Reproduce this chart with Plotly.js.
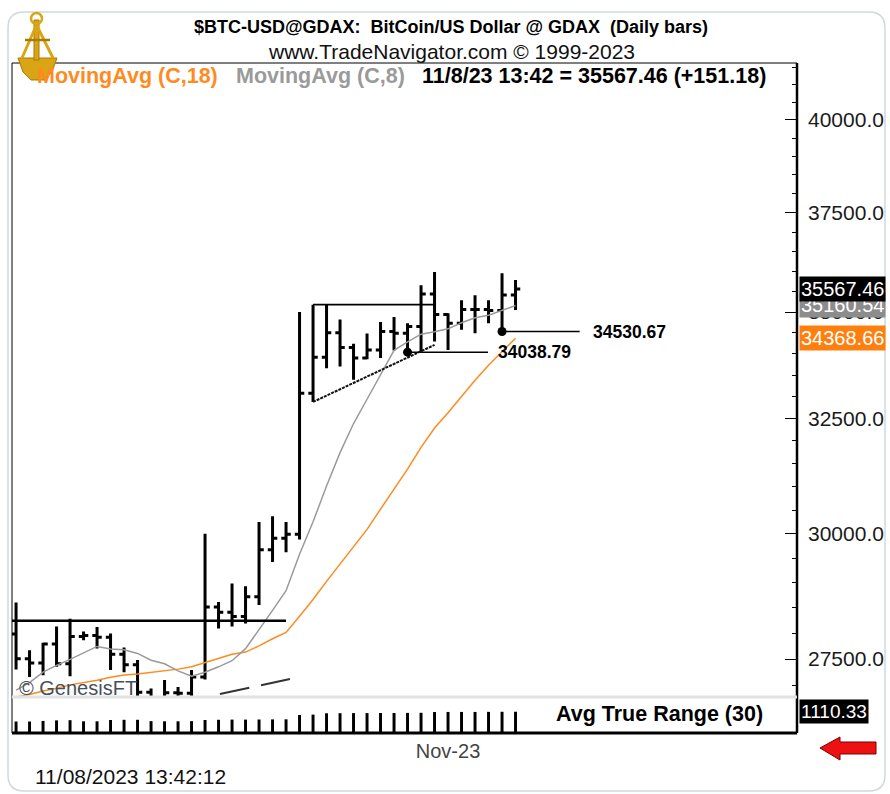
<!DOCTYPE html>
<html><head><meta charset="utf-8">
<script src="https://cdn.plot.ly/plotly-3.0.1.min.js"></script>
<style>html,body{margin:0;padding:0;background:#fff}#c{width:890px;height:794px}</style>
</head><body><div id="c"></div>
<script>
// ---------- data ----------
const dates = ['2023-10-02','2023-10-03','2023-10-04','2023-10-05','2023-10-06','2023-10-07','2023-10-08','2023-10-09','2023-10-10','2023-10-11','2023-10-12','2023-10-13','2023-10-14','2023-10-15','2023-10-16','2023-10-17','2023-10-18','2023-10-19','2023-10-20','2023-10-21','2023-10-22','2023-10-23','2023-10-24','2023-10-25','2023-10-26','2023-10-27','2023-10-28','2023-10-29','2023-10-30','2023-10-31','2023-11-01','2023-11-02','2023-11-03','2023-11-04','2023-11-05','2023-11-06','2023-11-07','2023-11-08'];
const openP  = [27983,27505,27425,27790,27410,27935,27955,27920,27590,27390,26870,26750,26860,26855,27160,28510,28410,28325,28715,29670,29910,29990,33080,33920,34500,34150,33900,34090,34530,34490,34650,35440,34940,34730,35060,35060,35040,35416.28];
const highP  = [28600,27670,27810,28130,28280,28030,28120,27990,27720,27480,26940,27100,26970,27290,30000,28610,28980,28925,30250,30370,30250,35000,35180,35180,34820,34240,34480,34760,34880,34730,35660,35990,34970,35290,35410,35290,35960,35790];
const lowP   = [27300,27160,27190,27350,27170,27860,27700,27290,27250,26550,26560,26690,26800,26800,27110,28090,28130,28185,28550,29420,29620,29880,32880,33660,33700,33390,33870,33900,34080,34038.79,34050,34290,34090,34570,34490,34730,34530.67,35050];
const closeP = [27505,27425,27790,27410,27935,27955,27920,27590,27390,26870,26750,26860,26855,27160,28510,28410,28325,28715,29670,29910,29990,33080,33920,34500,34150,33900,34090,34530,34490,34650,35440,34940,34730,35060,35060,35040,35416.28,35567.46];
const ma18 = [26782,26828,26896,26944,27010,27051,27095,27152,27197,27213,27241,27272,27307,27351,27433,27516,27592,27632,27752,27890,28013,28328,28660,29024,29370,29720,30093,30519,30948,31381,31857,32289,32635,33006,33379,33730,34049,34368.66];
const ma8  = [26912,27052,27249,27379,27492,27622,27741,27691,27677,27607,27477,27409,27274,27174,27248,27351,27467,27698,28063,28444,28836,29576,30252,31014,31742,32390,32942,33521,34082,34280,34467,34522,34595,34742,34861,34924,35041,35160.54];
const atr30 = [600,600,630,660,670,610,610,680,690,690,620,610,610,620,680,690,700,700,705,710,715,940,960,1030,1035,1040,1040,1045,1045,1050,1055,1095,1100,1100,1100,1105,1108,1110.33];
const priceTicks = [27500,30000,32500,35000,37500,40000];
const minorTicks = [27000,28000,28500,29000,29500,30500,31000,31500,32000,33000,33500,34000,34500,35500,36000,36500,37000,38000,38500,39000,39500,40500,41000,41500];
const dateTicks = ['2023-11-01'];
const dateTickText = ['Nov-23'];
const resistance = 35180;       // top of triangle
const triLow = [32880, 34210];  // lower triangle line ends
const triDates = ['2023-10-24','2023-11-02'];
const baseLevel = 28240;        // horizontal line left side
const markA = {d:'2023-10-31', v:34038.79, end:'2023-11-05 23:00'};
const markB = {d:'2023-11-07', v:34530.67, end:'2023-11-12 18:00'};
const dashDates = ['2023-10-17 02:30','2023-10-22 07:00'];
const dashVals = [26840, 27120];
const lastClose = 35567.46, lastMa8 = 35160.54, lastMa18 = 34368.66, lastAtr = 1110.33;

// ---------- layout helpers ----------
const L = 12, R = 797, T = 63, B = 733;
const X = px => (px - L) / (R - L);
const Y = py => (B - py) / (B - T);
const FONT = 'Liberation Sans, Arial, sans-serif';
const paneSplit = 36 / (B - T);
const xStart = '2023-10-01 16:48', xEnd = '2023-11-28 20:24';

const traces = [
  {type:'bar', x:dates, y:atr30, xaxis:'x', yaxis:'y2', marker:{color:'#000'}, width:19000000, hoverinfo:'skip'},
  {type:'scatter', mode:'lines', x:dates, y:ma18, line:{color:'#ff8a1e', width:1.5}, hoverinfo:'skip'},
  {type:'scatter', mode:'lines', x:dates, y:ma8, line:{color:'#9a9a9a', width:1.5}, hoverinfo:'skip'},
  {type:'scatter', mode:'lines', x:[xStart, '2023-10-22'], y:[baseLevel, baseLevel], line:{color:'#000', width:2.5}, hoverinfo:'skip'},
  {type:'scatter', mode:'lines', x:triDates, y:[resistance, resistance], line:{color:'#000', width:1.8}, hoverinfo:'skip'},
  {type:'scatter', mode:'lines', x:triDates, y:triLow, line:{color:'#111', width:2, dash:'3px,1px'}, hoverinfo:'skip'},
  {type:'scatter', mode:'lines', x:[markA.d, markA.end], y:[markA.v, markA.v], line:{color:'#000', width:1.5}, hoverinfo:'skip'},
  {type:'scatter', mode:'lines', x:[markB.d, markB.end], y:[markB.v, markB.v], line:{color:'#000', width:1.5}, hoverinfo:'skip'},
  {type:'scatter', mode:'lines', x:dashDates, y:dashVals, line:{color:'#333', width:2, dash:'30px,12px'}, hoverinfo:'skip'},
  {type:'ohlc', x:dates, open:openP, high:highP, low:lowP, close:closeP, tickwidth:0.35,
   increasing:{line:{color:'#000', width:3}}, decreasing:{line:{color:'#000', width:3}}, hoverinfo:'skip'},
  {type:'scatter', mode:'markers', x:[markA.d, markB.d], y:[markA.v, markB.v], marker:{color:'#000', size:9}, hoverinfo:'skip'}
];

function ann(text, px, py, o) {
  return Object.assign({text:text, xref:'paper', yref:'paper', x:X(px), y:Y(py), xanchor:'left', yanchor:'middle',
    showarrow:false, font:{family:FONT, size:21, color:'#000'}}, o || {});
}
function logY(v){ return 120 + 3312 * Math.log10(40000 / v); }

const annotations = [
  ann('www.TradeNavigator.com © 1999-2023', 451, 51, {xanchor:'center', font:{family:FONT, size:21, color:'#111'}}),
  ann('<b>MovingAvg (C,18)</b>', 35, 76, {font:{family:FONT, size:21.5, color:'#ff8a1e'}}),
  ann('<b>MovingAvg (C,8)</b>', 234, 76, {font:{family:FONT, size:21.5, color:'#9a9a9a'}}),
  ann('<b>11/8/23 13:42 = ' + lastClose.toFixed(2) + ' (+151.18)</b>', 420, 76, {font:{family:FONT, size:21.5, color:'#000'}}),
  ann('<b>' + markB.v.toFixed(2) + '</b>', 591, 332, {font:{family:FONT, size:17.5, color:'#000'}}),
  ann('<b>' + markA.v.toFixed(2) + '</b>', 496, 352, {font:{family:FONT, size:17.5, color:'#000'}}),
  ann('© GenesisFT', 17, 688, {font:{family:FONT, size:20, color:'#46505a'}}),
  ann('<b>Avg True Range (30)</b>', 554, 714, {font:{family:FONT, size:21.5, color:'#000'}}),
  ann('11/08/2023 13:42:12', 33, 776, {font:{family:FONT, size:21, color:'#111'}}),
  ann(lastMa8.toFixed(2), 799, logY(lastMa8), {bgcolor:'#8c8c8c', font:{family:FONT, size:20, color:'#fff'}, borderpad:1}),
  ann(lastClose.toFixed(2), 799, logY(lastClose), {bgcolor:'#000', font:{family:FONT, size:20, color:'#fff'}, borderpad:1}),
  ann(lastMa18.toFixed(2), 799, logY(lastMa18), {bgcolor:'#ff7f0e', font:{family:FONT, size:20, color:'#fff'}, borderpad:1}),
  ann(lastAtr.toFixed(2), 799, 711, {bgcolor:'#000', font:{family:FONT, size:19, color:'#fff'}, borderpad:1})
];

// decorative card, frame, logo, arrow (paper coordinates from pixel helpers)
function P(pts){ return pts.map((p,i)=> (i? 'L':'M') + X(p[0]).toFixed(5) + ',' + Y(p[1]).toFixed(5)).join(' ') + ' Z'; }
function card(x0,y0,x1,y1,r){
  const f = (a,b)=> X(a).toFixed(5)+','+Y(b).toFixed(5);
  return 'M'+f(x0+r,y0)+' L'+f(x1-r,y0)+' Q'+f(x1,y0)+' '+f(x1,y0+r)+' L'+f(x1,y1-r)+' Q'+f(x1,y1)+' '+f(x1-r,y1)+
         ' L'+f(x0+r,y1)+' Q'+f(x0,y1)+' '+f(x0,y1-r)+' L'+f(x0,y0+r)+' Q'+f(x0,y0)+' '+f(x0+r,y0)+' Z';
}
const gold = '#d9a514', goldDark = '#a87b06';
const shapes = [
  {type:'path', xref:'paper', yref:'paper', path:card(8,12,885,791,16), line:{color:'#cfd9de', width:1.5}, layer:'below'},
  {type:'rect', xref:'paper', yref:'paper', x0:0, y0:0, x1:1, y1:1, line:{color:'#000', width:1}},
  {type:'line', xref:'paper', yref:'paper', x0:1, y0:0, x1:1, y1:1, line:{color:'#000', width:2.5}},
  {type:'line', xref:'paper', yref:'paper', x0:0, y0:0, x1:1, y1:0, line:{color:'#000', width:3}},
  {type:'line', xref:'paper', yref:'paper', x0:0, y0:paneSplit, x1:1, y1:paneSplit, line:{color:'#e2e2e2', width:3}},
  // logo
  {type:'path', xref:'paper', yref:'paper', path:P([[18,58],[57,58],[52,72],[44,80],[31,80],[23,72]]), fillcolor:gold, line:{color:goldDark, width:1}},
  {type:'rect', xref:'paper', yref:'paper', x0:X(34), x1:X(39), y0:Y(60), y1:Y(20), fillcolor:gold, line:{color:goldDark, width:1}},
  {type:'circle', xref:'paper', yref:'paper', x0:X(31), x1:X(42), y0:Y(24), y1:Y(13), line:{color:gold, width:2.5}},
  {type:'line', xref:'paper', yref:'paper', x0:X(36), y0:Y(26), x1:X(22), y1:Y(58), line:{color:gold, width:3}},
  {type:'line', xref:'paper', yref:'paper', x0:X(37), y0:Y(26), x1:X(53), y1:Y(58), line:{color:gold, width:3}},
  {type:'line', xref:'paper', yref:'paper', x0:X(25), y0:Y(40), x1:X(50), y1:Y(40), line:{color:goldDark, width:2.5}},
  // red arrow
  {type:'path', xref:'paper', yref:'paper', path:P([[820,748],[840,737],[840,742],[876,742],[876,754],[840,754],[840,760]]), fillcolor:'#ee1111', line:{color:'#7a0000', width:1}}
];

const layout = {
  width:890, height:794, margin:{l:L, r:890-R, t:T, b:794-B, pad:0},
  paper_bgcolor:'#fff', plot_bgcolor:'#fff', showlegend:false, dragmode:false,
  title:{text:'<b>$BTC-USD@GDAX:  BitCoin/US Dollar @ GDAX  (Daily bars)</b>', x:451/890, xanchor:'center', xref:'container',
         y:1-27/794, yanchor:'middle', yref:'container', font:{family:FONT, size:18, color:'#000'}},
  xaxis:{type:'date', range:[xStart, xEnd], anchor:'y2', rangeslider:{visible:false}, showgrid:false, zeroline:false, showline:false,
         ticks:'', tickmode:'array', tickvals:dateTicks, ticktext:dateTickText, ticklabelshift:27, ticklabelstandoff:4,
         tickfont:{family:FONT, size:20, color:'#444'}, fixedrange:true},
  yaxis:{type:'log', domain:[paneSplit, 1], range:[Math.log10(26783), Math.log10(41616)], side:'right', anchor:'x',
         tickmode:'array', tickvals:priceTicks, tickformat:'.1f', ticks:'inside', ticklen:12, tickwidth:1, tickcolor:'#000',
         ticklabelstandoff:10, showgrid:false, zeroline:false, showline:false,
         tickfont:{family:FONT, size:21, color:'#1a1a1a'},
         minor:{tickmode:'array', tickvals:minorTicks, ticks:'inside', ticklen:5, tickcolor:'#000', showgrid:false}, fixedrange:true},
  yaxis2:{domain:[0, paneSplit], range:[0, 1880], visible:false, anchor:'x', fixedrange:true},
  annotations:annotations, shapes:shapes
};
Plotly.newPlot('c', traces, layout, {staticPlot:true, displayModeBar:false});
</script></body></html>
